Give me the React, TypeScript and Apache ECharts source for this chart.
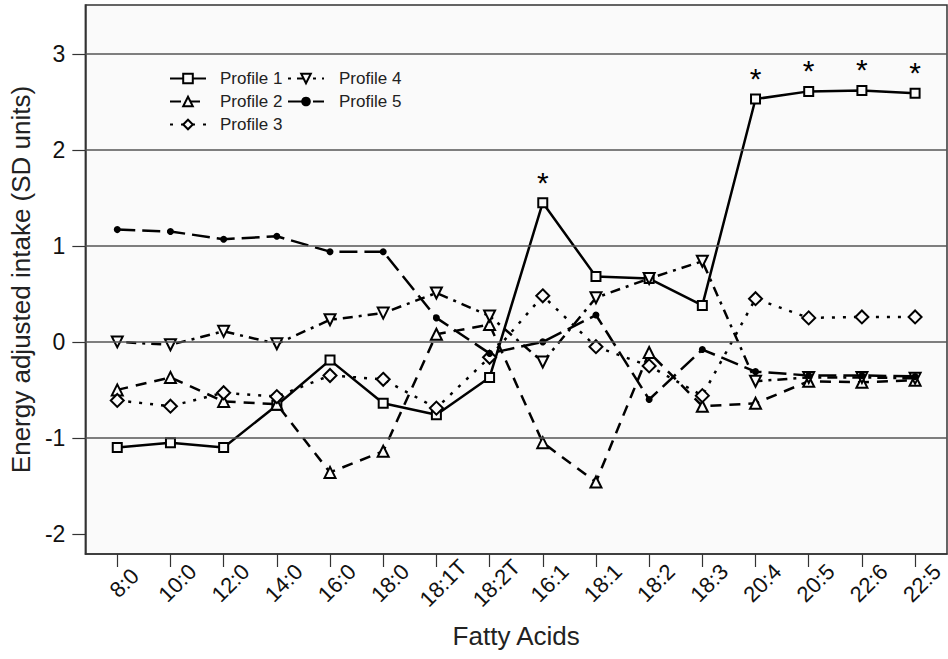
import React, { useEffect, useRef } from "react";
import * as echarts from "echarts";

const categories = ["8:0", "10:0", "12:0", "14:0", "16:0", "18:0", "18:1T", "18:2T", "16:1", "18:1", "18:2", "18:3", "20:4", "20:5", "22:6", "22:5"];
const profile1 = [-1.1, -1.05, -1.1, -0.66, -0.19, -0.64, -0.76, -0.37, 1.45, 0.68, 0.66, 0.38, 2.53, 2.61, 2.62, 2.59];
const profile2 = [-0.5, -0.37, -0.62, -0.65, -1.36, -1.14, 0.08, 0.18, -1.05, -1.46, -0.11, -0.67, -0.64, -0.41, -0.42, -0.4];
const profile3 = [-0.61, -0.67, -0.53, -0.57, -0.35, -0.39, -0.69, -0.16, 0.48, -0.05, -0.25, -0.56, 0.45, 0.25, 0.26, 0.26];
const profile4 = [0.0, -0.03, 0.11, -0.02, 0.23, 0.3, 0.51, 0.27, -0.21, 0.46, 0.66, 0.84, -0.41, -0.37, -0.37, -0.38];
const profile5 = [1.17, 1.15, 1.07, 1.1, 0.94, 0.94, 0.25, -0.12, 0.0, 0.28, -0.6, -0.08, -0.31, -0.35, -0.35, -0.36];
const significant = [false, false, false, false, false, false, false, false, true, false, false, false, true, true, true, true];
const yTicks = [-2, -1, 0, 1, 2, 3];
const gridValues = [-1, 0, 1, 2, 3];

const FONT = "'Liberation Sans', Arial, sans-serif";
const BG = "#fafafa";
const LABEL_SHIFT = 0.13;

export default function App() {
  const ref = useRef<HTMLDivElement>(null);
  useEffect(() => {
    if (!ref.current) return;
    const chart = echarts.init(ref.current, undefined, { renderer: "svg" });
    const xs = categories.map((_, i) => i + 1);
    const toData = (arr: number[]) => arr.map((v, i) => [i + 1, v]);
    const openItem = { color: BG, borderColor: "#000", borderWidth: 2 };
    const base = {
      type: "line",
      z: 3,
      showAllSymbol: true,
      animation: false,
    };
    const legendCommon = {
      orient: "vertical",
      top: 70,
      padding: 0,
      itemWidth: 36,
      itemHeight: 12,
      itemGap: 6,
    };
    chart.setOption({
      animation: false,
      textStyle: { fontFamily: FONT },
      grid: {
        left: 83,
        top: 5,
        right: 1,
        bottom: 105,
        show: true,
        backgroundColor: BG,
        borderColor: "#333",
        borderWidth: 1.5,
      },
      legend: [
        {
          ...legendCommon,
          left: 169,
          data: ["Profile 1", "Profile 2", "Profile 3"],
          textStyle: { fontSize: 17, color: "#222", fontFamily: FONT, padding: [0, 0, 0, 9] },
        },
        {
          ...legendCommon,
          left: 287,
          data: ["Profile 4", "Profile 5"],
          textStyle: { fontSize: 17, color: "#222", fontFamily: FONT, padding: [0, 0, 0, 10] },
        },
      ],
      xAxis: {
        type: "value",
        min: 0.4,
        max: 16.6,
        name: "Fatty Acids",
        nameLocation: "middle",
        nameGap: 82,
        nameTextStyle: { fontSize: 26, color: "#222", fontFamily: FONT, verticalAlign: "middle" },
        axisLine: { show: true, onZero: false, lineStyle: { color: "#333", width: 1.5 } },
        axisTick: { show: true, length: 13, customValues: xs, lineStyle: { color: "#333", width: 1.2 } },
        axisLabel: {
          customValues: xs.map((x) => x + LABEL_SHIFT),
          rotate: 45,
          align: "center",
          verticalAlign: "middle",
          margin: 29,
          fontSize: 22,
          color: "#111",
          fontFamily: FONT,
          formatter: (v: number) => categories[Math.round(v - LABEL_SHIFT) - 1] ?? "",
        },
        splitLine: { show: false },
      },
      yAxis: {
        type: "value",
        min: -2.21,
        max: 3.51,
        name: "Energy adjusted intake (SD units)",
        nameLocation: "middle",
        nameGap: 56,
        nameTextStyle: { fontSize: 26, color: "#222", fontFamily: FONT, verticalAlign: "middle" },
        axisLine: { show: true, onZero: false, lineStyle: { color: "#333", width: 1.5 } },
        axisTick: { show: true, length: 13, customValues: yTicks, lineStyle: { color: "#333", width: 1.2 } },
        axisLabel: {
          customValues: yTicks,
          margin: 20,
          fontSize: 23,
          color: "#111",
          fontFamily: FONT,
          formatter: (v: number) => String(Math.round(v)),
        },
        splitLine: { show: false },
      },
      series: [
        {
          type: "line",
          name: "grid",
          data: [],
          z: 1,
          silent: true,
          markLine: {
            silent: true,
            symbol: ["none", "none"],
            label: { show: false },
            lineStyle: { color: "#555", width: 1.5, type: "solid" },
            data: gridValues.map((v) => ({ yAxis: v })),
          },
        },
        {
          ...base,
          name: "Profile 1",
          symbol: "rect",
          symbolSize: 9,
          lineStyle: { color: "#000", width: 2.5, type: "solid" },
          itemStyle: openItem,
          data: profile1.map((v, i) => ({
            value: [i + 1, v],
            label: significant[i]
              ? { show: true, formatter: "*", position: "top", distance: 0, fontSize: 30, color: "#000", fontFamily: FONT }
              : { show: false },
          })),
        },
        {
          ...base,
          name: "Profile 2",
          symbol: "triangle",
          symbolSize: 11,
          lineStyle: { color: "#000", width: 2.5, type: [11, 8] },
          itemStyle: openItem,
          data: toData(profile2),
        },
        {
          ...base,
          name: "Profile 3",
          symbol: "diamond",
          symbolSize: 13,
          lineStyle: { color: "#000", width: 2.5, type: [3, 8] },
          itemStyle: openItem,
          data: toData(profile3),
        },
        {
          ...base,
          name: "Profile 4",
          symbol: "triangle",
          symbolRotate: 180,
          symbolSize: 11,
          lineStyle: { color: "#000", width: 2.5, type: [3, 6, 10, 6] },
          itemStyle: openItem,
          data: toData(profile4),
        },
        {
          ...base,
          name: "Profile 5",
          symbol: "circle",
          symbolSize: 7,
          lineStyle: { color: "#000", width: 2.5, type: [18, 7] },
          itemStyle: { color: "#000", borderColor: "#000", borderWidth: 0 },
          data: toData(profile5),
        },
      ],
    });
    return () => chart.dispose();
  }, []);
  return (
    <div
      ref={ref}
      style={{ position: "fixed", left: 0, top: 0, width: 948, height: 659, background: "#fff" }}
    />
  );
}
